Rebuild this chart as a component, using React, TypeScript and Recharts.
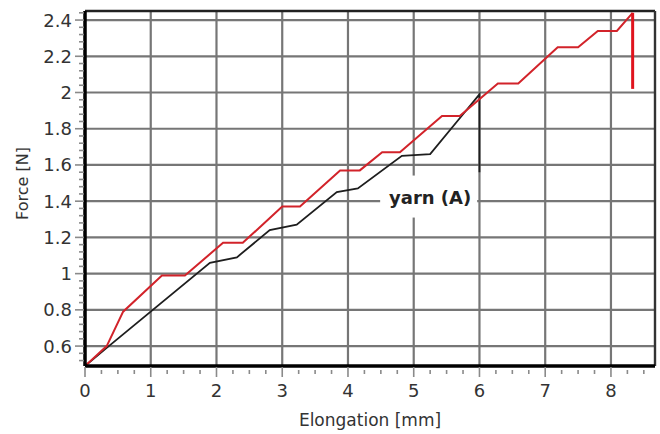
import React from 'react';
import { LineChart, Line, XAxis, YAxis, CartesianGrid, ReferenceLine, ReferenceDot, Label } from 'recharts';

// Axis ticks
const xMajorTicks = [0, 1, 2, 3, 4, 5, 6, 7, 8];
const yMajorTicks = [0.6, 0.8, 1, 1.2, 1.4, 1.6, 1.8, 2, 2.2, 2.4];
const xMinorTicks: number[] = [];
for (let i = 1; i <= 34; i++) if (i % 4 !== 0) xMinorTicks.push(i / 4);
const yMinorTicks: number[] = [];
for (let i = 13; i <= 61; i++) if (i % 5 !== 0) yMinorTicks.push(Math.round(i * 4) / 100);

const xDomain = [0, 8.67];
const yDomain = [0.49, 2.45];

// Series: yarn (B) red, yarn (A) black
const redX = [0, 0.33, 0.58, 1.17, 1.52, 2.1, 2.4, 3.0, 3.27, 3.88, 4.18, 4.52, 4.79, 5.43, 5.7, 6.28, 6.59, 7.19, 7.5, 7.8, 8.09, 8.33];
const redY = [0.49, 0.6, 0.79, 0.99, 0.99, 1.17, 1.17, 1.37, 1.37, 1.57, 1.57, 1.67, 1.67, 1.87, 1.87, 2.05, 2.05, 2.25, 2.25, 2.34, 2.34, 2.44];
const redBreakX = [8.33, 8.33];
const redBreakY = [2.44, 2.02];

const blackX = [0, 0.33, 1.9, 2.31, 2.81, 3.22, 3.83, 4.15, 4.82, 5.25, 5.75, 6.0, 6.0];
const blackY = [0.49, 0.59, 1.06, 1.09, 1.24, 1.27, 1.45, 1.47, 1.65, 1.66, 1.88, 1.99, 1.56];

const annotationText = 'yarn (A)';
const annotationX = 5.25;
const annotationY = 1.42;

const toPoints = (xs: number[], ys: number[]) => xs.map((x, i) => ({ x, y: ys[i] }));
const redData = toPoints(redX, redY);
const redBreakData = toPoints(redBreakX, redBreakY);
const blackData = toPoints(blackX, blackY);

const FONT = '"DejaVu Sans", "Liberation Sans", Arial, sans-serif';
const isMajor = (v: number, majors: number[]) => majors.some((m) => Math.abs(m - v) < 1e-6);

const xTicksAll = [...xMajorTicks, ...xMinorTicks].sort((a, b) => a - b);
const yTicksAll = [...yMajorTicks, ...yMinorTicks].sort((a, b) => a - b);

const XTick = (props: any) => {
  const { x, y, payload } = props;
  const v = payload.value;
  const major = isMajor(v, xMajorTicks);
  return (
    <g>
      <line x1={x} x2={x} y1={y + (major ? 1 : 4)} y2={y + (major ? 11 : 8)} stroke="#8a8a8a" strokeWidth={1.6} />
      {major && (
        <text x={x} y={y + 31} textAnchor="middle" fontFamily={FONT} fontSize={18} fill="#333">
          {String(v)}
        </text>
      )}
    </g>
  );
};

const YTick = (props: any) => {
  const { x, y, payload } = props;
  const v = payload.value;
  const major = isMajor(v, yMajorTicks);
  return (
    <g>
      <line x1={x - (major ? 10 : 6)} x2={x - 1} y1={y} y2={y} stroke="#8a8a8a" strokeWidth={1.6} />
      {major && (
        <text x={x - 13} y={y + 6.5} textAnchor="end" fontFamily={FONT} fontSize={18} fill="#333">
          {String(v)}
        </text>
      )}
    </g>
  );
};

const XTitle = (props: any) => {
  const vb = props.viewBox;
  return (
    <text x={vb.x + vb.width / 2} y={vb.y + 60} textAnchor="middle" fontFamily={FONT} fontSize={17} fill="#333">
      Elongation [mm]
    </text>
  );
};

const YTitle = (props: any) => {
  const vb = props.viewBox;
  const cx = vb.x + 22;
  const cy = vb.y + vb.height / 2 - 5;
  return (
    <text x={cx} y={cy} transform={`rotate(-90 ${cx} ${cy})`} dy={6} textAnchor="middle" fontFamily={FONT} fontSize={16} fill="#333">
      Force [N]
    </text>
  );
};

const AnnotationShape = (props: any) => {
  const { cx, cy } = props;
  return (
    <g>
      <rect x={cx - 50} y={cy - 22} width={97} height={42} fill="#fff" />
      <text x={cx} y={cy + 6} textAnchor="middle" fontFamily={FONT} fontSize={18} fontWeight="bold" fill="#222">
        {annotationText}
      </text>
    </g>
  );
};

export default function App() {
  return (
    <div style={{ position: 'absolute', left: 0, top: 0, width: 660, height: 434, background: '#fff' }}>
      <LineChart width={660} height={434} margin={{ top: 11, right: 5, left: 0, bottom: 0 }}>
        <CartesianGrid
          horizontalValues={yMajorTicks}
          verticalValues={xMajorTicks}
          stroke="#767676"
          strokeWidth={2.2}
        />
        <XAxis
          type="number"
          dataKey="x"
          domain={xDomain}
          allowDataOverflow
          ticks={xTicksAll}
          interval={0}
          tickSize={0}
          tickMargin={0}
          tickLine={false}
          tick={XTick}
          height={68}
          axisLine={{ stroke: '#000', strokeWidth: 3.5 }}
        >
          <Label content={XTitle} />
        </XAxis>
        <YAxis
          type="number"
          dataKey="y"
          domain={yDomain}
          allowDataOverflow
          ticks={yTicksAll}
          interval={0}
          tickSize={0}
          tickMargin={0}
          tickLine={false}
          tick={YTick}
          width={85}
          axisLine={{ stroke: '#000', strokeWidth: 3.5 }}
        >
          <Label content={YTitle} />
        </YAxis>
        <ReferenceLine y={yDomain[1]} stroke="#222" strokeWidth={2.6} />
        <ReferenceLine x={xDomain[1]} stroke="#333" strokeWidth={2.4} />
        <ReferenceDot x={annotationX} y={annotationY} r={1} shape={AnnotationShape} />
        <Line data={blackData} dataKey="y" type="linear" stroke="#1e1e1e" strokeWidth={1.8} dot={false} isAnimationActive={false} />
        <Line data={redData} dataKey="y" type="linear" stroke="#d2232a" strokeWidth={2} dot={false} isAnimationActive={false} />
        <Line data={redBreakData} dataKey="y" type="linear" stroke="#e0141e" strokeWidth={3} dot={false} isAnimationActive={false} />
      </LineChart>
    </div>
  );
}
